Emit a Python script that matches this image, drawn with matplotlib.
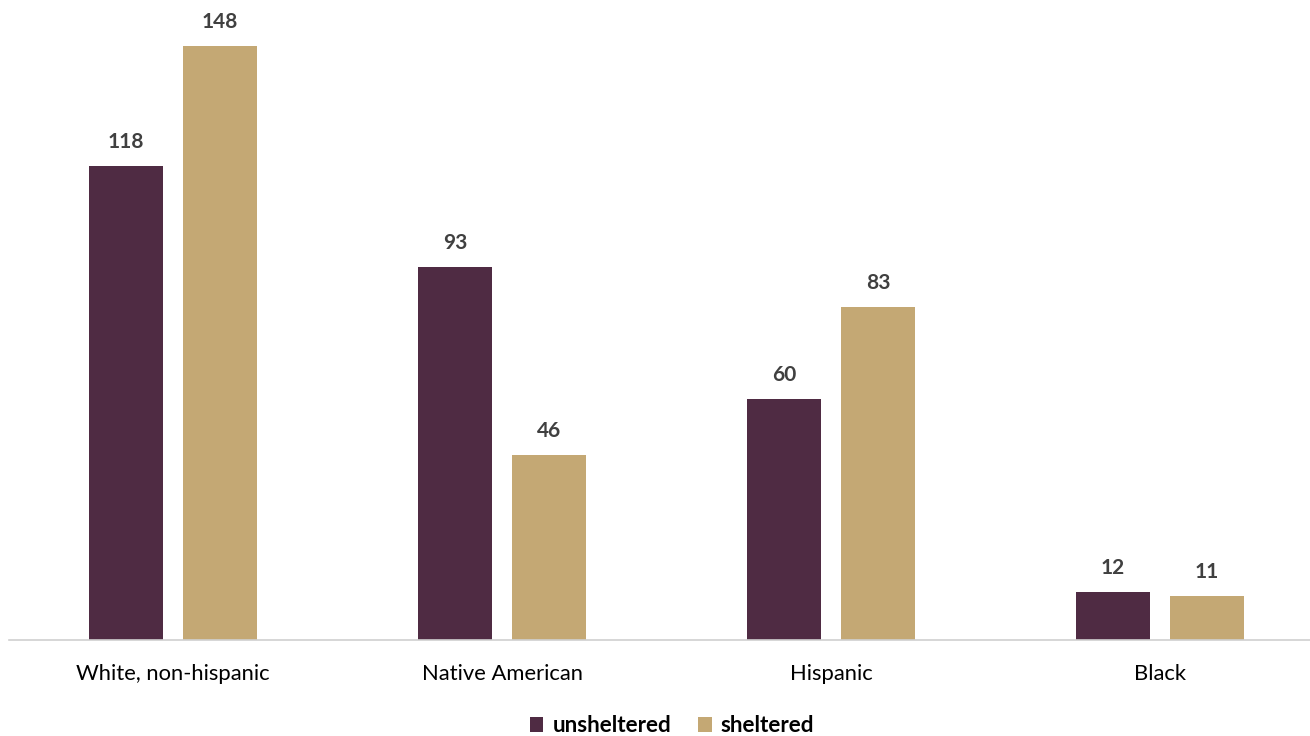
import matplotlib
matplotlib.use("Agg")
import matplotlib.pyplot as plt
import numpy as np

plt.rcParams['font.family'] = ['Lato', 'DejaVu Sans']

# ========== data ==========
categories = ['White, non-hispanic', 'Native American', 'Hispanic', 'Black']
unsheltered = [118, 93, 60, 12]
sheltered = [148, 46, 83, 11]

c_unsh = '#4F2B43'
c_sh = '#C4A874'
txt = '#404040'

fig = plt.figure(figsize=(13.1, 7.36), dpi=100)
ax = fig.add_axes([8.5 / 1310, 1 - 640 / 736, 1316 / 1310, 630 / 736])

x = np.arange(len(categories))
off = 0.143
w = 0.225
b1 = ax.bar(x - off, unsheltered, w, color=c_unsh, label='unsheltered')
b2 = ax.bar(x + off, sheltered, w, color=c_sh, label='sheltered')

for bars in (b1, b2):
    for r in bars:
        ax.annotate(f'{int(r.get_height())}', (r.get_x() + r.get_width() / 2, r.get_height()),
                    xytext=(0, 10), textcoords='offset points', ha='center', va='bottom',
                    fontsize=15, fontweight='bold', color=txt)

ax.set_xlim(-0.5, 3.5)
ax.set_ylim(0, 630 / 4.014)
ax.set_xticks(x)
ax.set_xticklabels(categories, fontsize=15.8, color='black')
ax.tick_params(axis='x', length=0, pad=17)
ax.set_yticks([])
for s in ['top', 'right', 'left']:
    ax.spines[s].set_visible(False)
ax.spines['bottom'].set_color('#D0D0D0')
ax.spines['bottom'].set_linewidth(1.2)

leg = fig.legend(loc='center', bbox_to_anchor=(672 / 1310, 1 - 726 / 736), ncol=2, frameon=False,
                 handlelength=0.6, handleheight=0.6, handletextpad=0.4, columnspacing=1.2,
                 prop={'size': 16.2, 'weight': 'bold'})
for t in leg.get_texts():
    t.set_color('black')

fig.savefig('out.png', dpi=100)
